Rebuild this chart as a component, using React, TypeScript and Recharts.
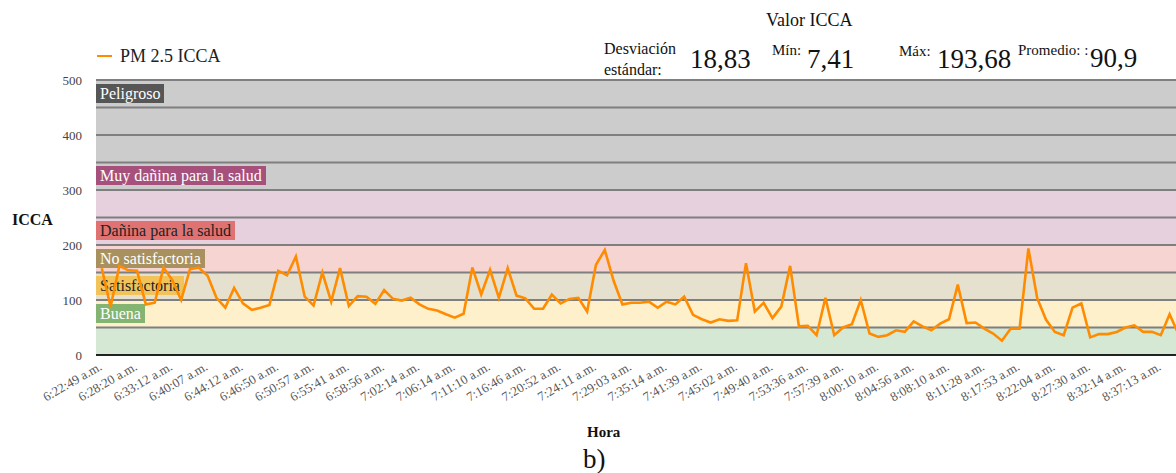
import React from 'react';
import { LineChart, Line, XAxis, YAxis, ReferenceArea, ReferenceLine } from 'recharts';

// ---- data ----
const tickLabels = [
  '6:22:49 a.m.', '6:28:20 a.m.', '6:33:12 a.m.', '6:40:07 a.m.', '6:44:12 a.m.', '6:46:50 a.m.',
  '6:50:57 a.m.', '6:55:41 a.m.', '6:58:56 a.m.', '7:02:14 a.m.', '7:06:14 a.m.', '7:11:10 a.m.',
  '7:16:46 a.m.', '7:20:52 a.m.', '7:24:11 a.m.', '7:29:03 a.m.', '7:35:14 a.m.', '7:41:39 a.m.',
  '7:45:02 a.m.', '7:49:40 a.m.', '7:53:36 a.m.', '7:57:39 a.m.', '8:00:10 a.m.', '8:04:56 a.m.',
  '8:08:10 a.m.', '8:11:28 a.m.', '8:17:53 a.m.', '8:22:04 a.m.', '8:27:30 a.m.', '8:32:14 a.m.',
  '8:37:13 a.m.',
];

const pm25Icca = [
  158, 88, 162, 154, 153, 92, 95, 159, 136, 100,
  156, 159, 144, 104, 86, 122, 94, 82, 86, 91,
  153, 145, 179, 106, 90, 150, 97, 158, 89, 107,
  106, 93, 118, 102, 99, 104, 92, 84, 81, 74,
  68, 75, 159, 110, 155, 104, 158, 108, 103, 84,
  84, 110, 94, 102, 104, 79, 164, 191, 135, 92,
  95, 95, 97, 86, 97, 92, 106, 73, 65, 59,
  65, 62, 63, 167, 79, 95, 67, 88, 162, 52,
  53, 36, 104, 36, 50, 56, 100, 39, 33, 36,
  45, 42, 61, 52, 45, 57, 65, 128, 58, 59,
  48, 39, 26, 48, 48, 193.68, 103, 64, 42, 36,
  86, 94, 32, 38, 38, 42, 50, 54, 42, 42,
  36, 74, 38, 40,
];

const yTicks = [0, 100, 200, 300, 400, 500];
const bandLimits = [0, 50, 100, 150, 200, 300, 500];
const gridLevels = [50, 100, 150, 200, 250, 300, 350, 400, 450, 500];
const categoryNames = ['Buena', 'Satisfactoria', 'No satisfactoria', 'Dañina para la salud', 'Muy dañina para la salud', 'Peligroso'];
const categoryLabelLevels = [75, 125, 175, 225, 325, 475];

const statDesviacion = '18,83';
const statMin = '7,41';
const statMax = '193,68';
const statPromedio = '90,9';

// ---- styles ----
const bandColors = ['#d5e8d4', '#fff0cc', '#e6e1cf', '#f6d4d2', '#e6d0de', '#cccccc'];
const labelBg = ['#84b472', '#f1c35a', '#a8915e', '#e07272', '#a5517c', '#565656'];
const labelFg = ['#ffffff', '#222222', '#ffffff', '#222222', '#ffffff', '#ffffff'];
const FONT = '"Liberation Serif", "Times New Roman", serif';

const data = pm25Icca.map((v, i) => ({ i, v }));
const xTicks = tickLabels.map((_, k) => k * 4);

const XTick = (props: any) => {
  const { x, y, payload } = props;
  const label = tickLabels[payload.value / 4] ?? '';
  const ty = y + 6;
  return (
    <text x={x + 1} y={ty} transform={`rotate(-30 ${x + 1} ${ty})`} textAnchor="end"
      fontSize={13} fill="#555" fontFamily={FONT}>{label}</text>
  );
};

const BandLabel = ({ viewBox, text, bg, fg }: any) => {
  const x = 96;
  const y = viewBox.y;
  return (
    <foreignObject x={x} y={y - 10} width={340} height={20}>
      <div style={{
        display: 'inline-block', background: bg, color: fg, fontFamily: FONT, fontSize: 16,
        lineHeight: '19px', height: 19, padding: '0 4px', whiteSpace: 'nowrap',
      }}>{text}</div>
    </foreignObject>
  );
};

const abs = (left: number, top: number, extra: React.CSSProperties = {}): React.CSSProperties => ({
  position: 'absolute', left, top, whiteSpace: 'nowrap', color: '#111', ...extra,
});

export default function App() {
  return (
    <div style={{ position: 'fixed', left: 0, top: 0, width: 1176, height: 473, overflow: 'hidden', background: '#fff', fontFamily: FONT }}>
      <LineChart width={1195} height={473} data={data} margin={{ top: 80, right: 2, bottom: 58, left: 36 }}>
        <XAxis dataKey="i" type="number" domain={[-0.65, 123.65]} ticks={xTicks} interval={0}
          tick={<XTick />} tickLine={false} axisLine={{ stroke: '#222', strokeWidth: 2 }} height={60} />
        <YAxis type="number" domain={[0, 500]} ticks={yTicks} width={60} tickLine={false} axisLine={false}
          tickMargin={8} tick={{ fontSize: 13, fill: '#444', fontFamily: FONT }} />
        {bandColors.map((c, k) => (
          <ReferenceArea key={'b' + k} y1={bandLimits[k]} y2={bandLimits[k + 1]} fill={c} fillOpacity={1} stroke="none" />
        ))}
        {gridLevels.map((g) => (
          <ReferenceLine key={'g' + g} y={g} stroke="#7f7f7f" strokeWidth={2} />
        ))}
        {categoryNames.map((n, k) => (
          <ReferenceLine key={'l' + k} y={categoryLabelLevels[k]} stroke="none"
            label={(p: any) => <BandLabel viewBox={p.viewBox} text={n} bg={labelBg[k]} fg={labelFg[k]} />} />
        ))}
        <Line type="linear" dataKey="v" stroke="#ff8c00" strokeWidth={2.6} dot={false} isAnimationActive={false} />
      </LineChart>

      {/* legend */}
      <div style={abs(97, 55, { width: 15, height: 2, background: '#ff8c00' })} />
      <div style={abs(120, 46, { fontSize: 18, lineHeight: '20px', color: '#222' })}>PM 2.5 ICCA</div>

      {/* stats header */}
      <div style={abs(766, 9, { fontSize: 18, lineHeight: '22px' })}>Valor ICCA</div>
      <div style={abs(604, 38, { fontSize: 16, lineHeight: '21px' })}>Desviación<br />estándar:</div>
      <div style={abs(690, 44, { fontSize: 27, lineHeight: '30px' })}>{statDesviacion}</div>
      <div style={abs(772, 41, { fontSize: 15, lineHeight: '18px' })}>Mín:</div>
      <div style={abs(807, 44, { fontSize: 27, lineHeight: '30px' })}>{statMin}</div>
      <div style={abs(899, 42, { fontSize: 15, lineHeight: '18px' })}>Máx:</div>
      <div style={abs(937, 44, { fontSize: 27, lineHeight: '30px' })}>{statMax}</div>
      <div style={abs(1018, 41, { fontSize: 15, lineHeight: '18px' })}>Promedio: :</div>
      <div style={abs(1090, 43, { fontSize: 27, lineHeight: '30px' })}>{statPromedio}</div>

      {/* axis titles */}
      <div style={abs(12, 210, { fontSize: 16, lineHeight: '19px', fontWeight: 'bold' })}>ICCA</div>
      <div style={abs(587, 423, { fontSize: 15, lineHeight: '18px', fontWeight: 'bold' })}>Hora</div>
      <div style={abs(583, 444, { fontSize: 27, lineHeight: '30px' })}>b)</div>
    </div>
  );
}
